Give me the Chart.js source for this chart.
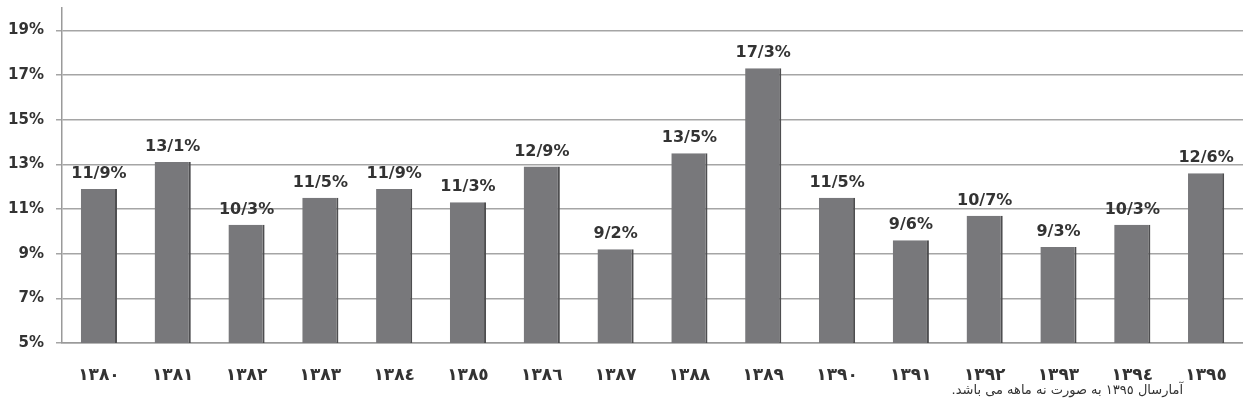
<!DOCTYPE html>
<html>
<head>
<meta charset="utf-8">
<script src="https://cdn.jsdelivr.net/npm/chart.js@4/dist/chart.umd.min.js"></script>
<style>
    body { margin: 0; background: #fff; }
    .wrap { position: relative; width: 1243px; height: 415px; }
    .note {
        position: absolute; right: 60px; top: 382px;
        font-family: "DejaVu Sans", sans-serif; font-size: 13px; color: #333;
        direction: rtl; white-space: nowrap;
    }
</style>
</head>
<body>
<div class="wrap">
    <canvas id="barChart" width="1243" height="415"></canvas>
    <div class="note">آمارسال ١٣٩٥ به صورت نه ماهه می باشد.</div>
</div>
<script>
const years = ['١٣٨٠', '١٣٨١', '١٣٨٢', '١٣٨٣', '١٣٨٤', '١٣٨٥', '١٣٨٦', '١٣٨٧',
               '١٣٨٨', '١٣٨٩', '١٣٩٠', '١٣٩١', '١٣٩٢', '١٣٩٣', '١٣٩٤', '١٣٩٥'];
const rates = [11.9, 13.1, 10.3, 11.5, 11.9, 11.3, 12.9, 9.2,
               13.5, 17.3, 11.5, 9.6, 10.7, 9.3, 10.3, 12.6];
const yTicks = [5, 7, 9, 11, 13, 15, 17, 19];

// value labels above bars, decimal shown with '/'
const barLabels = {
    id: 'barLabels',
    afterDatasetsDraw(chart) {
        const ctx = chart.ctx;
        ctx.save();
        ctx.font = 'bold 16px "DejaVu Sans"';
        ctx.fillStyle = '#333';
        ctx.textAlign = 'center';
        ctx.textBaseline = 'bottom';
        chart.getDatasetMeta(0).data.forEach((bar, i) => {
            const txt = rates[i].toFixed(1).replace('.', '/') + '%';
            ctx.fillText(txt, bar.x, bar.y - 7);
        });
        ctx.restore();
    }
};

new Chart(document.getElementById('barChart'), {
    type: 'bar',
    data: {
        labels: years,
        datasets: [{
            data: rates,
            backgroundColor: '#78787b',
            borderColor: '#4e4e50',
            borderWidth: { left: 0, right: 2, top: 0, bottom: 0 },
            borderSkipped: false,
            barPercentage: 0.49,
            categoryPercentage: 1
        }]
    },
    options: {
        responsive: false,
        animation: false,
        layout: { padding: { top: 8, right: 0, left: 0, bottom: 0 } },
        plugins: { legend: { display: false }, tooltip: { enabled: false } },
        scales: {
            x: {
                grid: { display: false, drawTicks: false },
                border: { color: '#9a9a9a', width: 1.5 },
                ticks: {
                    padding: 22,
                    color: '#333',
                    font: { family: '"DejaVu Sans"', size: 17, weight: 'bold' }
                },
                afterFit(scale) {
                    scale.height = 72;
                    scale.paddingLeft = 0;
                    scale.paddingRight = 0;
                }
            },
            y: {
                min: 5,
                max: 20,
                afterBuildTicks(scale) {
                    scale.ticks = yTicks.map(v => ({ value: v }));
                },
                grid: { color: '#a5a5a5', lineWidth: 1.5, tickLength: 6 },
                border: { color: '#9a9a9a', width: 1.5 },
                ticks: {
                    padding: 12,
                    color: '#333',
                    font: { family: '"DejaVu Sans"', size: 15, weight: 'bold' },
                    callback: v => v + '%'
                },
                afterFit(scale) {
                    scale.width = 62;
                    scale.paddingTop = 0;
                    scale.paddingBottom = 0;
                }
            }
        }
    },
    plugins: [barLabels]
});
</script>
</body>
</html>
